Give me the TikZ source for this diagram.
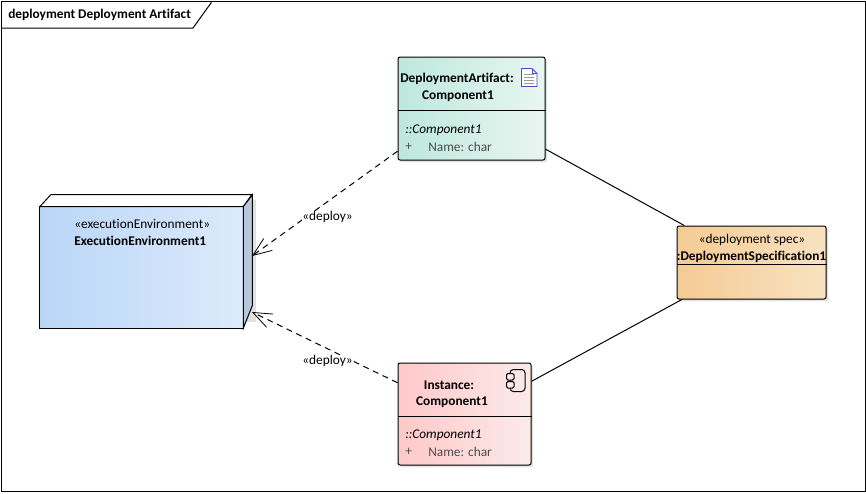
\documentclass[tikz,border=0pt]{standalone}
\usepackage{fontspec}
\setmainfont[Ligatures=NoCommon]{Carlito}
\usepackage{tikz}
\usetikzlibrary{arrows.meta,calc,shadows}
\definecolor{artleft}{HTML}{BDE8DB}
\definecolor{artright}{HTML}{E9F6F2}
\definecolor{instleft}{HTML}{FFC8C8}
\definecolor{instright}{HTML}{FCEAEA}
\definecolor{specleft}{HTML}{F4CB93}
\definecolor{specright}{HTML}{F8E2C2}
\definecolor{envleft}{HTML}{B9D6F7}
\definecolor{envright}{HTML}{DDEAFC}
\definecolor{envside}{HTML}{B8C7DA}
\tikzstyle{box} = [rectangle, draw, rounded corners=1.5pt, line width=0.75pt, shading=axis, shading angle=0, inner sep=0pt, drop shadow={shadow xshift=1.5pt, shadow yshift=-1.5pt, fill=black!30, opacity=0.4}]
\tikzstyle{title} = [inner sep=0pt, font=\fontsize{10}{11}\selectfont\bfseries]
\tikzstyle{plain} = [inner sep=0pt, font=\fontsize{10}{11}\selectfont]
\tikzstyle{member} = [plain, anchor=west, text=black!70]
\tikzstyle{deploy} = [line width=0.75pt, dashed, dash pattern=on 4.5pt off 3.5pt, -{Straight Barb[length=14pt, width=11pt, line width=0.6pt]}]
\tikzstyle{link} = [line width=0.75pt]

\begin{document}
\begin{tikzpicture}[x=0.75pt, y=-0.75pt]
    \useasboundingbox (0,0) rectangle (866,493);
    \node[draw, line width=0.75pt, minimum width=864*0.75pt, minimum height=490*0.75pt, inner sep=0pt] (frame) at (433,246) {};
    \coordinate (tagA) at (1,28);
    \coordinate (tagB) at (193,28);
    \coordinate (tagC) at (211,3);
    \coordinate (tagD) at (211,1);
    \draw[link] (tagA) -- (tagB) -- (tagC) -- (tagD);
    \node[title, anchor=west] (tag) at (8,15) {deployment Deployment Artifact};

    % boxes
    \node[box, left color=artleft, right color=artright, minimum width=147*0.75pt, minimum height=103*0.75pt] (artifact) at (471.5,108.5) {};
    \node[box, left color=instleft, right color=instright, minimum width=133*0.75pt, minimum height=102*0.75pt] (instance) at (464.5,414) {};
    \node[box, left color=specleft, right color=specright, minimum width=149*0.75pt, minimum height=73*0.75pt] (spec) at (751.5,262.5) {};

    % environment
    \fill[black!12] (247,200) rectangle (256,322);
    \node[rectangle, shading=axis, shading angle=0, left color=envleft, right color=envright, minimum width=203*0.75pt, minimum height=121*0.75pt, inner sep=0pt] (env) at (141.5,267.5) {};
    \draw[link, fill=white] (env.north west) -- ++(11,-12) -- ++(201,0) -- (env.north east) -- cycle;
    \draw[link, fill=envside] (env.north east) -- ++(9,-12) -- ++(0,111) -- (env.south east) -- cycle;
    \draw[link] (env.north west) rectangle (env.south east);
    \coordinate (envtop) at (252,256);
    \coordinate (envlow) at (252,312);

    % dividers
    \draw[link] (artifact.west |- 0,110.5) -- (artifact.east |- 0,110.5);
    \draw[link] (instance.west |- 0,416) -- (instance.east |- 0,416);
    \draw[link] (spec.west |- 0,264) -- (spec.east |- 0,264);

    % texts
    \node[title] (artname) at (457,78.5) {DeploymentArtifact:};
    \node[title] (artcomp) at (458,96) {Component1};
    \node[plain, anchor=west, font=\fontsize{10}{11}\selectfont\itshape] (artbase) at (405,130) {::Component1};
    \node[member] (artplus) at (405,147) {+};
    \node[member] (artattr) at (428,147) {Name: char};
    \node[title] (instname) at (449,385) {Instance:};
    \node[title] (instcomp) at (452,402) {Component1};
    \node[plain, anchor=west, font=\fontsize{10}{11}\selectfont\itshape] (instbase) at (405,435) {::Component1};
    \node[member] (instplus) at (405,452) {+};
    \node[member] (instattr) at (428,452) {Name: char};
    \node[plain] (specster) at (752,240) {«deployment spec»};
    \node[title] (specname) at (751.5,257) {:DeploymentSpecification1};
    \node[plain, anchor=west] (envster) at (74,224) {«executionEnvironment»};
    \node[title, anchor=west] (envname) at (74,241) {ExecutionEnvironment1};

    % icons
    \draw[line width=0.6pt, draw=blue!60!black!70, fill=white] (521.5,68.5) -- (532,68.5) -- (537,73.5) -- (537,86.5) -- (521.5,86.5) -- cycle;
    \draw[line width=0.5pt, draw=blue!60!black!70] (532,68.5) -- (532,73.5) -- (537,73.5);
    \foreach \y in {74,77,80,83}
        \draw[line width=0.5pt, draw=black!40] (524,\y) -- (534,\y);
    \draw[line width=0.75pt, rounded corners=2.5pt] (510,369.5) rectangle (525,391.5);
    \draw[line width=0.75pt, rounded corners=1pt, fill=instright] (506.5,373.5) rectangle (514,380);
    \draw[line width=0.75pt, rounded corners=1pt, fill=instright] (506.5,381.5) rectangle (514,388);

    % connectors
    \draw[link] (artifact) -- (spec);
    \draw[link] (instance.26) -- (spec.208);
    \draw[deploy] (artifact.210.6) -- (envtop);
    \draw[deploy] (instance.155) -- (envlow);
    \node[plain, fill=white] (deploya) at (327.5,217) {«deploy»};
    \node[plain, fill=white] (deployb) at (327.5,361) {«deploy»};
\end{tikzpicture}
\end{document}
